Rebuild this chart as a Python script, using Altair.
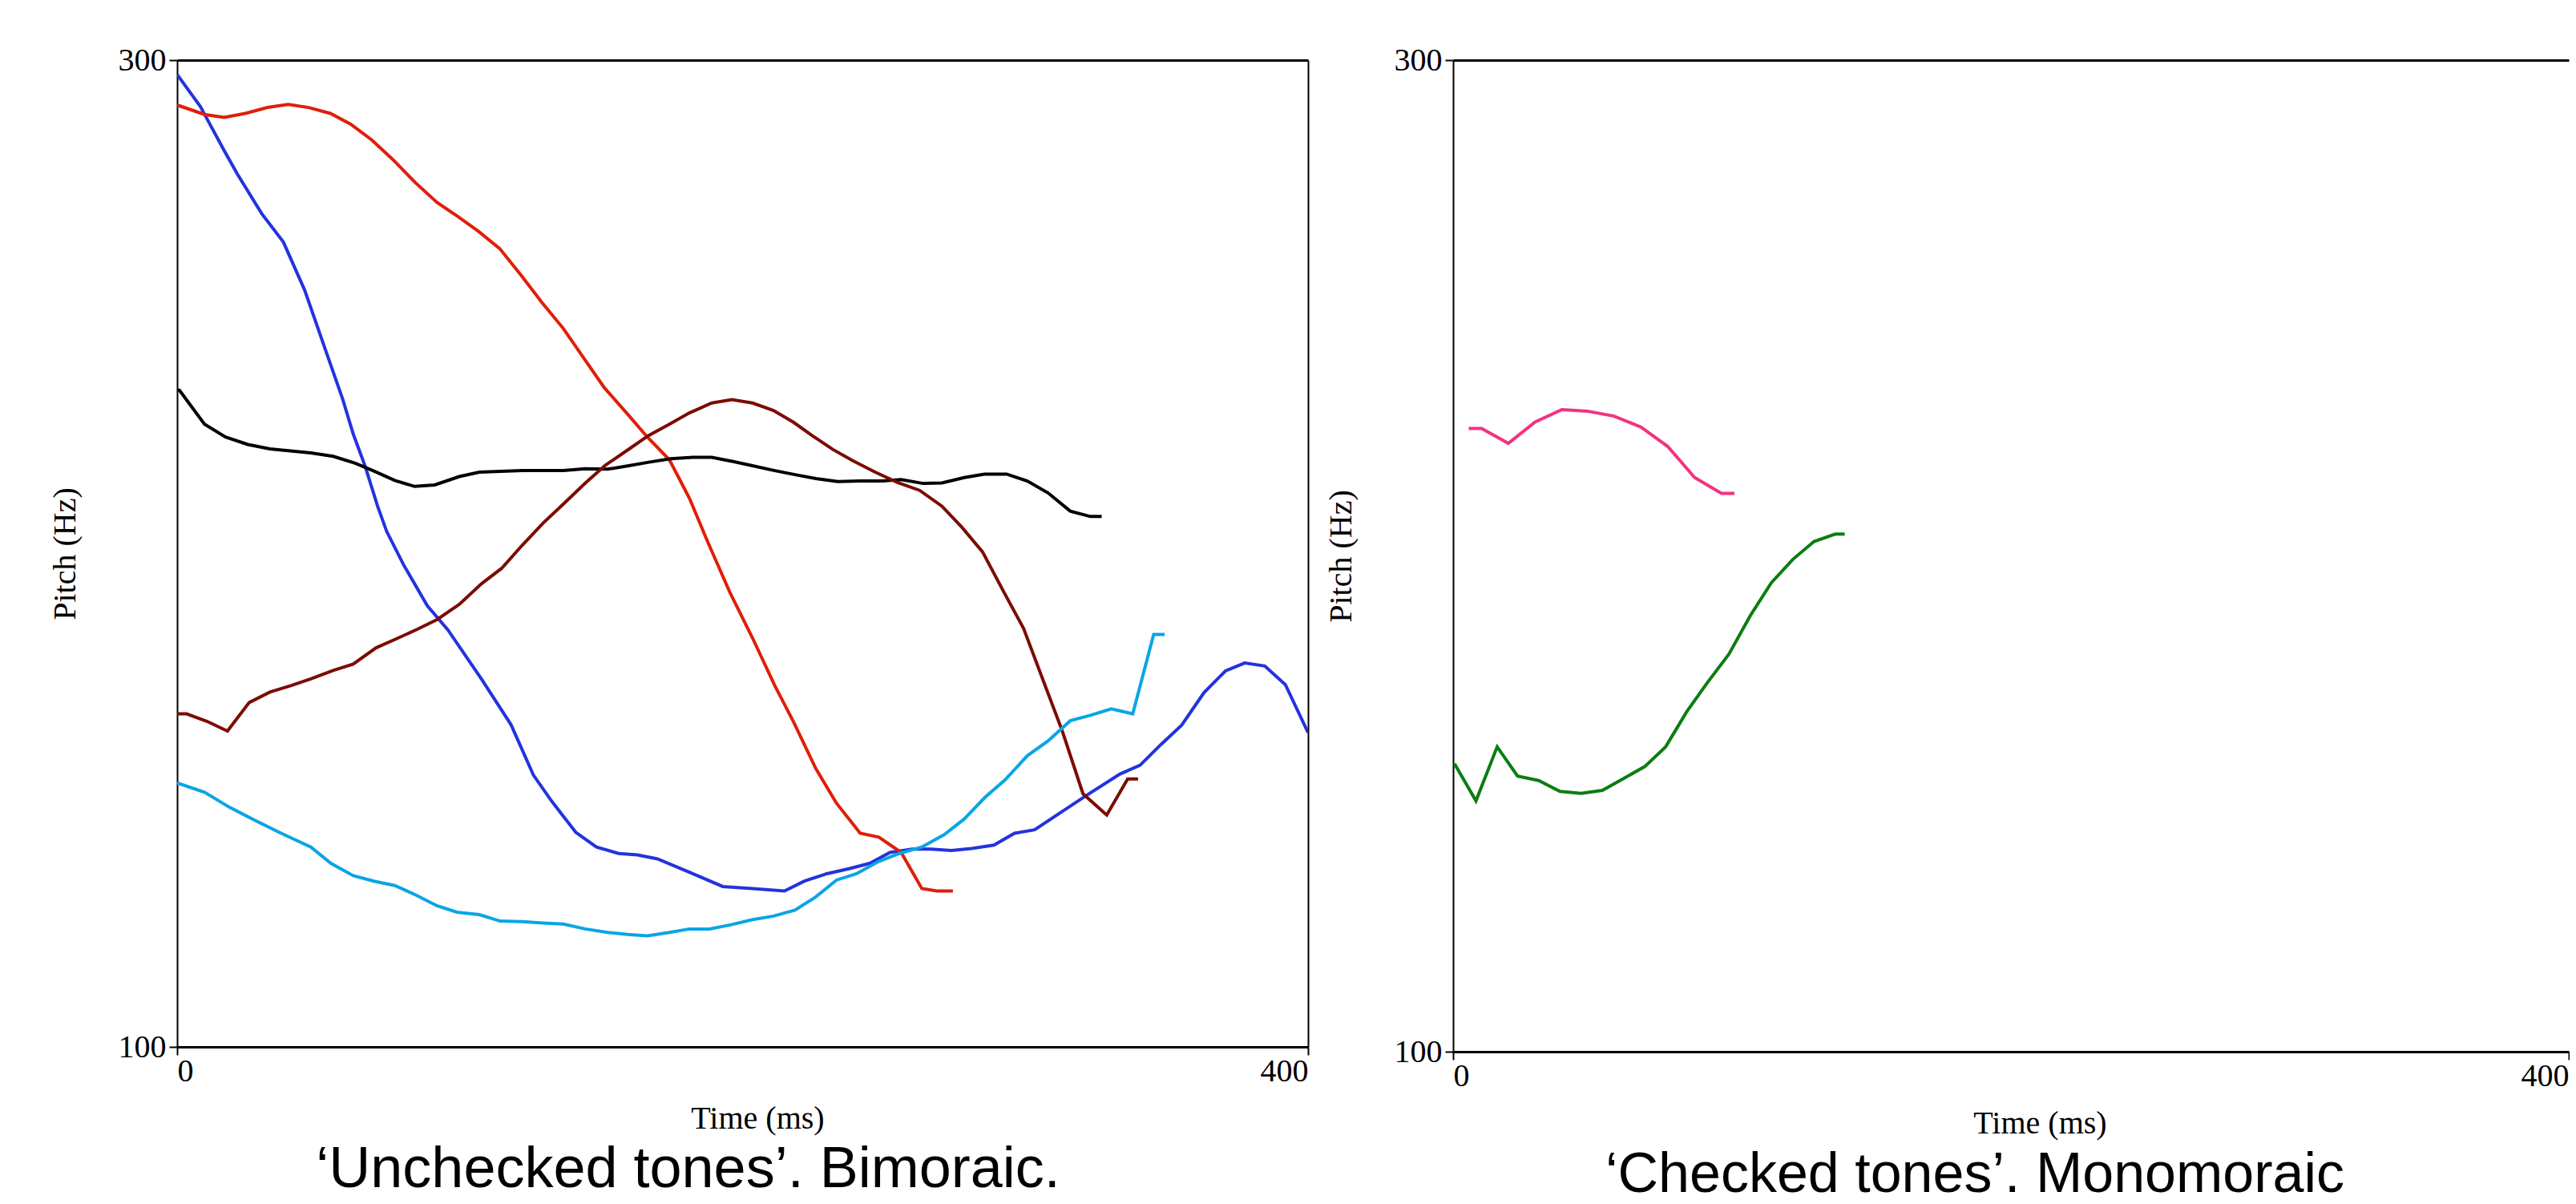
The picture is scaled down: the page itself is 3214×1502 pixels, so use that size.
import altair as alt
import pandas as pd

TIME_DOMAIN = [0, 400]
PITCH_DOMAIN = [100, 300]
TIME_TICKS = [0, 400]
PITCH_TICKS = [100, 300]

# ---------- Left panel: 'Unchecked tones'. Bimoraic. ----------
blue_t = [0, 8.2, 16.9, 21.2, 29.9, 37.6, 45.1, 53, 58.6, 62.3, 66.5, 70.9, 74.1, 80.1, 88.5, 95.8,
          107.7, 118.1, 126, 132.6, 141, 148.3, 156.2, 162.8, 169.9, 181.2, 193, 203.5, 214.8, 221.9,
          229.8, 237.6, 245, 252.1, 260, 266.5, 273.9, 281, 288.9, 296.2, 303.3, 312.5, 321.7, 333.5,
          340.6, 348, 355.3, 363.2, 370.8, 377.6, 384.7, 392, 400]
blue_f = [297.1, 290.6, 281.4, 277, 268.9, 263.1, 253.4, 240.4, 231.2, 224.2, 217.7, 209.6, 204.5, 197.7,
          189.4, 184.5, 174.5, 165.3, 155.1, 149.7, 143.5, 140.5, 139.2, 138.9, 138.1, 135.4, 132.5, 132.1,
          131.6, 133.6, 135.1, 136.1, 137.2, 139.4, 140.1, 140.1, 139.8, 140.2, 140.9, 143.3, 144, 147.5,
          151, 155.3, 157.1, 161.3, 165.2, 171.8, 176.2, 177.8, 177.2, 173.4, 163.7]

red_t = [0, 9.6, 16.6, 24.1, 32, 39.3, 46.5, 54.2, 61.4, 68.9, 76.2, 84.2, 91.8, 99.3, 106.6, 114.1,
         121.8, 129, 136.6, 144.2, 151.1, 159.4, 166.3, 174.1, 181.2, 187.7, 195.6, 203.5, 211.4, 218,
         225.9, 233.2, 241.6, 248.2, 256.1, 263.4, 268.7, 274.4]
red_f = [290.9, 289, 288.4, 289.2, 290.4, 291, 290.4, 289.2, 287, 283.8, 279.9, 275.2, 271.2, 268.3,
         265.3, 261.8, 256.3, 250.9, 245.6, 239.3, 233.6, 228.2, 223.6, 219, 211.2, 202.3, 192, 182.9,
         173.2, 165.9, 156.4, 149.4, 143.3, 142.5, 139.4, 132.1, 131.6, 131.6]

black_t = [0, 0.8, 9.7, 17.1, 25, 32.8, 47.3, 55.2, 63, 69.6, 77, 84, 91.1, 99.8, 106.9, 122.1, 136.6,
           144.4, 152.3, 158.9, 166.8, 174.6, 182.5, 189.1, 197, 203.5, 211.4, 219.3, 225.9, 233.7,
           241.6, 249.5, 256.1, 263.9, 270.5, 278.4, 285.5, 293.4, 300.7, 308, 315.9, 323, 327]
black_f = [233.1, 233.1, 226.2, 223.6, 222.1, 221.2, 220.4, 219.7, 218.3, 216.7, 214.8, 213.6, 213.9,
           215.6, 216.5, 216.8, 216.8, 217.2, 217.1, 217.7, 218.5, 219.2, 219.5, 219.5, 218.6, 217.8,
           216.8, 215.9, 215.2, 214.6, 214.7, 214.7, 215, 214.2, 214.3, 215.4, 216.1, 216.1, 214.7,
           212.3, 208.6, 207.5, 207.5]

maroon_t = [0, 3.4, 10.5, 17.8, 25.5, 32.8, 40.2, 47.3, 55.2, 62.3, 70.4, 77.5, 84.8, 91.9, 99.8, 107.7,
            114.8, 122.1, 129.5, 137.3, 144.4, 151.5, 159.4, 166.7, 174.1, 181.2, 189.1, 196.2, 203.5,
            210.9, 218, 224.6, 231.9, 239, 246.9, 254.8, 262.6, 270.5, 277.6, 284.9, 292.3, 299.4,
            306.5, 313.1, 320.4, 328.8, 336.2, 339.9]
maroon_f = [167.5, 167.5, 166, 164, 169.8, 171.9, 173.2, 174.6, 176.3, 177.6, 180.9, 182.7, 184.6, 186.6,
            189.7, 193.9, 197, 201.7, 206.2, 210.4, 214.3, 217.9, 221, 223.9, 226.2, 228.5, 230.5, 231.2,
            230.5, 229, 226.6, 223.9, 221.1, 218.8, 216.5, 214.4, 212.8, 209.6, 205.3, 200.3, 192.3,
            184.8, 174, 164, 151.3, 147, 154.3, 154.3]

cyan_t = [0, 0.5, 9.7, 18.4, 27.6, 36.8, 47.3, 54.4, 62.3, 69.6, 77, 84, 91.9, 99, 106.9, 114.3, 122.1,
          129.5, 136.6, 144.4, 152.3, 159.4, 166.3, 174.1, 181.2, 188.3, 196.2, 203.5, 210.9, 218.5,
          225.9, 233.2, 240.3, 248.2, 255.5, 263.4, 271.3, 278.4, 285.8, 292.8, 300.7, 308, 315.9, 323,
          330.4, 338, 345.4, 349.3]
cyan_f = [153.4, 153.4, 151.6, 148.6, 145.9, 143.3, 140.5, 137.2, 134.7, 133.6, 132.7, 130.9, 128.6,
          127.3, 126.8, 125.5, 125.4, 125.1, 124.9, 123.9, 123.2, 122.8, 122.5, 123.2, 123.9, 123.9,
          124.8, 125.8, 126.5, 127.7, 130.4, 133.8, 135.1, 137.6, 139.2, 140.5, 143, 146.2, 150.6,
          154.1, 159, 162, 166.1, 167.2, 168.5, 167.5, 183.6, 183.6]

# ---------- Right panel: 'Checked tones'. Monomoraic ----------
pink_t = [5.6, 10.2, 19.8, 29.4, 39, 48.1, 57.7, 67.3, 76.9, 86.6, 96.2, 100.9]
pink_f = [225.7, 225.7, 222.7, 227, 229.5, 229.2, 228.2, 226, 222.1, 215.8, 212.6, 212.6]

green_t = [0.5, 8.2, 15.8, 23.1, 30.7, 38.3, 45.9, 53.5, 61.1, 68.7, 76.2, 83.8, 91.1, 98.9, 106.6,
           114.1, 121.8, 129.4, 137, 140.4]
green_f = [158.1, 150.6, 161.5, 155.6, 154.7, 152.5, 152.1, 152.7, 155.1, 157.5, 161.5, 168.6, 174.4,
           180.2, 188, 194.6, 199.3, 202.9, 204.4, 204.4]

LEFT_NAMES = ["blue", "red", "black", "maroon", "cyan"]
LEFT_COLORS = ["#2233dd", "#e01e0a", "#000000", "#7b0c02", "#0aa5e5"]
RIGHT_NAMES = ["pink", "green"]
RIGHT_COLORS = ["#f2337f", "#0b7d12"]


def build_df(series):
    rows = []
    for name, ts, fs in series:
        for i, (t, f) in enumerate(zip(ts, fs)):
            rows.append({"series": name, "order": i, "time": t, "pitch": f})
    return pd.DataFrame(rows)


left_df = build_df([("blue", blue_t, blue_f), ("red", red_t, red_f), ("black", black_t, black_f),
                    ("maroon", maroon_t, maroon_f), ("cyan", cyan_t, cyan_f)])
right_df = build_df([("pink", pink_t, pink_f), ("green", green_t, green_f)])

SERIF = "Liberation Serif"
SANS = "Liberation Sans"
COMMON = dict(grid=False, domainColor="black", tickColor="black", labelColor="black", titleColor="black")


def panel(df, names, colors, width, height, title, title_dx, title_size, xtitle_x, right_border):
    xs = alt.Scale(domain=TIME_DOMAIN, nice=False, zero=False)
    ys = alt.Scale(domain=PITCH_DOMAIN, nice=False, zero=False)
    x_axis = alt.Axis(orient="bottom", values=TIME_TICKS, labelFlush=True, tickSize=10, tickWidth=2,
                      domainWidth=3, labelFont=SERIF, labelFontSize=40, labelPadding=0,
                      title="Time (ms)", titleFont=SERIF, titleFontSize=40, titleFontWeight="normal",
                      titleBaseline="alphabetic", titleAlign="center", titleX=xtitle_x, titleY=101,
                      **COMMON)
    y_axis = alt.Axis(orient="left", values=PITCH_TICKS, labelFlush=False, tickSize=10, tickWidth=2,
                      domainWidth=2, labelFont=SERIF, labelFontSize=40, labelPadding=4,
                      title="Pitch (Hz)", titleFont=SERIF, titleFontSize=40, titleFontWeight="normal",
                      titleBaseline="alphabetic", titleX=-128, **COMMON)
    lines = alt.Chart(df).mark_line(strokeWidth=4, clip=True).encode(
        x=alt.X("time:Q", scale=xs, axis=x_axis),
        y=alt.Y("pitch:Q", scale=ys, axis=y_axis),
        color=alt.Color("series:N", scale=alt.Scale(domain=names, range=colors), legend=None),
        order="order:Q",
    )
    top_axis = alt.Axis(orient="top", values=TIME_TICKS, labels=False, ticks=False, domainWidth=3,
                        title=None, **COMMON)
    if right_border:
        y2 = alt.Y("pitch:Q", scale=ys,
                   axis=alt.Axis(orient="right", values=PITCH_TICKS, labels=False, ticks=False,
                                 domainWidth=2, title=None, **COMMON))
    else:
        y2 = alt.Y("pitch:Q", scale=ys, axis=None)
    frame = alt.Chart(df).mark_line(opacity=0).encode(
        x=alt.X("time:Q", scale=xs, axis=top_axis),
        y=y2,
        detail="series:N",
        order="order:Q",
    )
    return alt.layer(lines, frame).resolve_axis(x="independent", y="independent").properties(
        width=width, height=height,
        title=alt.TitleParams(text=title, orient="bottom", font=SANS, fontSize=title_size,
                              fontWeight="normal", anchor="middle", frame="group", dx=title_dx,
                              offset=66, baseline="alphabetic", color="black"),
    )


left = panel(left_df, LEFT_NAMES, LEFT_COLORS, 1411, 1231, "\u2018Unchecked tones\u2019. Bimoraic.",
             -68, 72, 724, True)
right = panel(right_df, RIGHT_NAMES, RIGHT_COLORS, 1392, 1237, "\u2018Checked tones\u2019. Monomoraic",
              -45, 70, 732, False)

chart = alt.hconcat(left, right, spacing=20).resolve_scale(color="independent").properties(
    padding={"left": 53, "top": 47, "right": 0, "bottom": 0},
    background="white",
).configure_view(stroke=None)

chart.save("out.html", embed_options={"renderer": "svg", "actions": False})
